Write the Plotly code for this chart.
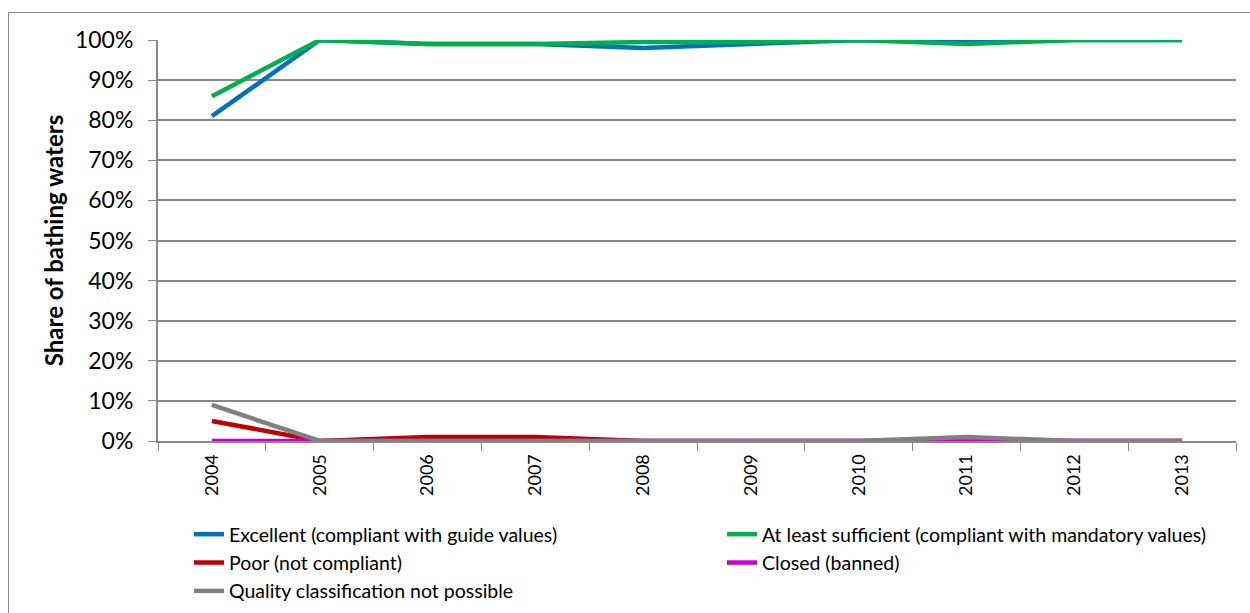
import plotly.graph_objects as go

years = ["2004", "2005", "2006", "2007", "2008", "2009", "2010", "2011", "2012", "2013"]

excellent = [81, 100, 99, 99, 98, 99, 100, 99.5, 100, 100]
sufficient = [86, 100, 99, 99, 99.5, 99.5, 100, 99, 100, 100]
poor = [5, 0, 1, 1, 0, 0, 0, 0, 0, 0]
closed = [0, 0, 0, 0, 0, 0, 0, 0, 0, 0]
not_possible = [9, 0, 0, 0, 0, 0, 0, 1, 0, 0]

# (label, values, colour, legend column)
series = [
    ("Excellent (compliant with guide values)", excellent, "#0070C0", "legend"),
    ("At least sufficient (compliant with mandatory values)", sufficient, "#00B050", "legend2"),
    ("Poor (not compliant)", poor, "#C00000", "legend"),
    ("Closed (banned)", closed, "#CC00CC", "legend2"),
    ("Quality classification not possible", not_possible, "#808080", "legend"),
]

fig = go.Figure()
for name, vals, color, leg in series:
    fig.add_trace(go.Scatter(
        x=years, y=vals, name=name, mode="lines",
        line=dict(color=color, width=4.5),
        legend=leg,
    ))

W, H = 1250, 613
L, R, T, B = 158, 14, 40, 172
pw, ph = W - L - R, H - T - B


def px_x(x):
    return (x - L) / pw


def px_y(y):
    return (H - B - y) / ph


font = "Lato, 'Open Sans', sans-serif"
legend_style = dict(
    orientation="v", xanchor="left", yanchor="top",
    itemwidth=30, tracegroupgap=0,
    font=dict(family=font, size=19.5, color="black"),
    bgcolor="rgba(0,0,0,0)",
)

fig.update_layout(
    width=W, height=H,
    margin=dict(l=L, r=R, t=T, b=B, pad=0, autoexpand=False),
    paper_bgcolor="white", plot_bgcolor="white",
    font=dict(family=font, size=18, color="black"),
    showlegend=True,
    legend=dict(x=px_x(189), y=px_y(515), **legend_style),
    legend2=dict(x=px_x(722), y=px_y(515), **legend_style),
    xaxis=dict(
        type="category", categoryorder="array", categoryarray=years,
        range=[-0.5, 9.5],
        showline=True, linecolor="#888888", linewidth=2,
        ticks="outside", tickson="boundaries", ticklen=8, tickcolor="#888888", tickwidth=1,
        tickangle=-90, tickfont=dict(family=font, size=18),
        ticklabelstandoff=4,
        showgrid=False, zeroline=False,
    ),
    yaxis=dict(
        range=[0, 100], tickvals=list(range(0, 101, 10)),
        ticktext=[f"{v}%" for v in range(0, 101, 10)],
        showgrid=True, gridcolor="#888888", gridwidth=2,
        showline=True, linecolor="#888888", linewidth=2,
        ticks="outside", ticklen=8, tickcolor="#888888", tickwidth=1,
        tickfont=dict(family=font, size=23),
        ticklabelstandoff=10,
        zeroline=False,
        title=dict(text="<b>Share of bathing waters</b>", font=dict(family=font, size=24), standoff=5),
    ),
    shapes=[
        dict(type="rect", xref="paper", yref="paper",
             x0=px_x(8.5), x1=px_x(1260), y0=px_y(12.5), y1=px_y(700),
             line=dict(color="#888888", width=1), fillcolor="rgba(0,0,0,0)", layer="below"),
    ],
)

fig.write_html("out.html")
